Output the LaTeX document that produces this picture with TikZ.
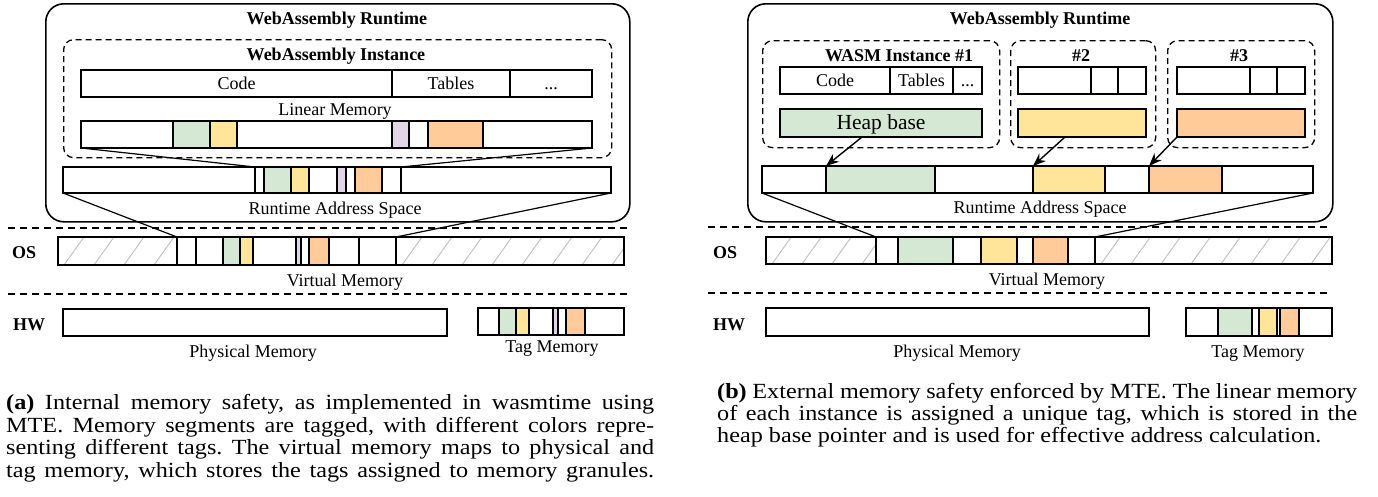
\documentclass[tikz,border=0pt]{standalone}
\usepackage{fontspec}
\setmainfont{Liberation Serif}
\newfontfamily\capfont[FakeStretch=1.12]{Liberation Serif}
\usetikzlibrary{arrows.meta}
\definecolor{tgreen}{HTML}{D5E8D4}
\definecolor{tyellow}{HTML}{FFE599}
\definecolor{torange}{HTML}{FFCC99}
\definecolor{tpurple}{HTML}{E1D5E7}
\frenchspacing
\tikzset{
  seg/.style={draw, line width=1.6pt, inner sep=0pt, outer sep=0pt, font=\fontsize{18}{20}\selectfont, text height=12pt, text depth=0pt},
  hatched/.style={path picture={\foreach \i in {-1,...,10}{\draw[black!25,line width=0.9pt] ([xshift=\i*30pt+6pt]path picture bounding box.south west) -- ++(20pt,28pt);}}},
  lbl/.style={anchor=base, inner sep=0pt, font=\fontsize{18}{20}\selectfont},
  blbl/.style={lbl, font=\fontsize{18}{20}\selectfont\bfseries},
  rtbox/.style={draw, line width=1.6pt, rounded corners=18pt, inner sep=0pt, anchor=north west},
  dbox/.style={draw, line width=1.3pt, dash pattern=on 6pt off 4pt, rounded corners=10pt, inner sep=0pt, anchor=north west},
  layer/.style={line width=1.4pt, dash pattern=on 7pt off 5pt},
  conn/.style={line width=1.2pt},
  arr/.style={line width=1.4pt, -{Stealth[length=13pt,width=10pt]}},
  captxt/.style={anchor=base west, inner sep=0pt, font=\capfont\fontsize{21.6}{22.4}\selectfont}
}
\newcommand\mseg[7]{\node[seg,fill=#6,minimum width={(#3)-(#2)},minimum height={(#5)-(#4)},anchor=north west] (#1) at (#2,#4) {#7};}
\begin{document}
\begin{tikzpicture}[x=1pt,y=-1pt]
\useasboundingbox (0,0) rectangle (1378,496);
% ================= LEFT PANEL =================
\node[rtbox, minimum width=584pt, minimum height=218pt] (rtA) at (45,3) {};
\node[blbl] (rtAt) at (337,24) {WebAssembly Runtime};
\node[dbox, minimum width=548pt, minimum height=118pt] (instA) at (63,39) {};
\node[blbl] (instAt) at (336,60) {WebAssembly Instance};
\mseg{codeA}{81}{392}{70}{97}{white}{Code}
\mseg{tabA}{392}{510}{70}{97}{white}{Tables}
\mseg{dotA}{510}{592}{70}{97}{white}{...}
\node[lbl] (lmAt) at (335,115) {Linear Memory};
\mseg{lmA1}{81}{173}{121}{148}{white}{}
\mseg{lmA2}{173}{210}{121}{148}{tgreen}{}
\mseg{lmA3}{210}{237}{121}{148}{tyellow}{}
\mseg{lmA4}{237}{392}{121}{148}{white}{}
\mseg{lmA5}{392}{409}{121}{148}{tpurple}{}
\mseg{lmA6}{409}{428}{121}{148}{white}{}
\mseg{lmA7}{428}{483}{121}{148}{torange}{}
\mseg{lmA8}{483}{592}{121}{148}{white}{}
% runtime address space
\mseg{raA1}{63}{255}{167}{193}{white}{}
\mseg{raA2}{255}{264}{167}{193}{white}{}
\mseg{raA3}{264}{291}{167}{193}{tgreen}{}
\mseg{raA4}{291}{309}{167}{193}{tyellow}{}
\mseg{raA5}{309}{337}{167}{193}{white}{}
\mseg{raA6}{337}{346}{167}{193}{tpurple}{}
\mseg{raA7}{346}{355}{167}{193}{white}{}
\mseg{raA8}{355}{382}{167}{193}{torange}{}
\mseg{raA9}{382}{401}{167}{193}{white}{}
\mseg{raA10}{401}{611}{167}{193}{white}{}
\node[lbl] (raAt) at (335,214) {Runtime Address Space};
\draw[conn] (lmA1.south west) -- (raA2.north west);
\draw[conn] (lmA8.south east) -- (raA10.north west);
% OS layer
\coordinate (osA1) at (8,228); \coordinate (osA2) at (627,228);
\draw[layer] (osA1) -- (osA2);
\node[blbl, anchor=base west] (osAt) at (12,258) {OS};
\mseg{vmA0}{58}{177}{237}{265}{white,hatched}{}
\mseg{vmA1}{177}{196}{237}{265}{white}{}
\mseg{vmA2}{196}{223}{237}{265}{white}{}
\mseg{vmA3}{223}{240}{237}{265}{tgreen}{}
\mseg{vmA4}{240}{253}{237}{265}{tyellow}{}
\mseg{vmA5}{253}{296}{237}{265}{white}{}
\mseg{vmA6}{296}{301}{237}{265}{tpurple}{}
\mseg{vmA7}{301}{309}{237}{265}{white}{}
\mseg{vmA8}{309}{329}{237}{265}{torange}{}
\mseg{vmA9}{329}{359}{237}{265}{white}{}
\mseg{vmA10}{359}{396}{237}{265}{white}{}
\mseg{vmA11}{396}{624}{237}{265}{white,hatched}{}
\draw[conn] (raA1.south west) -- (vmA1.north west);
\draw[conn] (raA10.south east) -- (vmA11.north west);
\node[lbl] (vmAt) at (345,286) {Virtual Memory};
% HW layer
\coordinate (hwA1) at (8,294); \coordinate (hwA2) at (627,294);
\draw[layer] (hwA1) -- (hwA2);
\node[blbl, anchor=base west] (hwAt) at (13,330) {HW};
\mseg{phA}{63}{447}{309}{336}{white}{}
\node[lbl] (phAt) at (253,357) {Physical Memory};
\mseg{tmA1}{478}{499}{308}{335}{white}{}
\mseg{tmA2}{499}{516}{308}{335}{tgreen}{}
\mseg{tmA3}{516}{529}{308}{335}{tyellow}{}
\mseg{tmA4}{529}{553}{308}{335}{white}{}
\mseg{tmA5}{553}{558}{308}{335}{tpurple}{}
\mseg{tmA6}{558}{566}{308}{335}{white}{}
\mseg{tmA7}{566}{585}{308}{335}{torange}{}
\mseg{tmA8}{585}{624}{308}{335}{white}{}
\node[lbl] (tmAt) at (552,352) {Tag Memory};
% ================= RIGHT PANEL =================
\node[rtbox, minimum width=585pt, minimum height=218pt] (rtB) at (747,3) {};
\node[blbl] (rtBt) at (1040,24) {WebAssembly Runtime};
\node[dbox, minimum width=237pt, minimum height=107pt] (inst1) at (762,40) {};
\node[dbox, minimum width=145pt, minimum height=107pt] (inst2) at (1010,40) {};
\node[dbox, minimum width=147pt, minimum height=107pt] (inst3) at (1167,40) {};
\node[blbl] (inst1t) at (899,61) {WASM Instance \#1};
\node[blbl] (inst2t) at (1081,61) {\#2};
\node[blbl] (inst3t) at (1239,61) {\#3};
\mseg{code1}{780}{890}{67}{94}{white}{Code}
\mseg{tab1}{890}{953}{67}{94}{white}{Tables}
\mseg{dot1}{953}{982}{67}{94}{white}{...}
\mseg{code2}{1018}{1091}{67}{94}{white}{}
\mseg{tab2}{1091}{1118}{67}{94}{white}{}
\mseg{dot2}{1118}{1146}{67}{94}{white}{}
\mseg{code3}{1177}{1250}{67}{94}{white}{}
\mseg{tab3}{1250}{1277}{67}{94}{white}{}
\mseg{dot3}{1277}{1305}{67}{94}{white}{}
\mseg{heap1}{780}{982}{109}{137}{tgreen}{\fontsize{21.5}{23}\selectfont Heap base}
\mseg{heap2}{1018}{1146}{109}{137}{tyellow}{}
\mseg{heap3}{1177}{1305}{109}{137}{torange}{}
% runtime address space
\mseg{rb1}{762}{826}{166}{193}{white}{}
\mseg{rb2}{826}{935}{166}{193}{tgreen}{}
\mseg{rb3}{935}{1033}{166}{193}{white}{}
\mseg{rb4}{1033}{1105}{166}{193}{tyellow}{}
\mseg{rb5}{1105}{1149}{166}{193}{white}{}
\mseg{rb6}{1149}{1222}{166}{193}{torange}{}
\mseg{rb7}{1222}{1313}{166}{193}{white}{}
\node[lbl] (rbt) at (1040,213) {Runtime Address Space};
\draw[arr] ([xshift=-19pt]heap1.south) -- (rb2.north west);
\draw[arr] ([xshift=-17pt]heap2.south) -- (rb4.north west);
\draw[arr] (heap3.south west) -- (rb6.north west);
% OS layer
\coordinate (osB1) at (708,227); \coordinate (osB2) at (1331,227);
\draw[layer] (osB1) -- (osB2);
\node[blbl, anchor=base west] (osBt) at (713,258) {OS};
\mseg{vr0}{766}{876}{237}{264}{white,hatched}{}
\mseg{vr1}{876}{898}{237}{264}{white}{}
\mseg{vr2}{898}{953}{237}{264}{tgreen}{}
\mseg{vr3}{953}{981}{237}{264}{white}{}
\mseg{vr4}{981}{1017}{237}{264}{tyellow}{}
\mseg{vr5}{1017}{1033}{237}{264}{white}{}
\mseg{vr6}{1033}{1068}{237}{264}{torange}{}
\mseg{vr7}{1068}{1095}{237}{264}{white}{}
\mseg{vr8}{1095}{1332}{237}{264}{white,hatched}{}
\draw[conn] (rb1.south west) -- (vr1.north west);
\draw[conn] (rb7.south east) -- (vr8.north west);
\node[lbl] (vrt) at (1047,285) {Virtual Memory};
% HW layer
\coordinate (hwB1) at (708,293); \coordinate (hwB2) at (1331,293);
\draw[layer] (hwB1) -- (hwB2);
\node[blbl, anchor=base west] (hwBt) at (713,330) {HW};
\mseg{phB}{766}{1149}{308}{336}{white}{}
\node[lbl] (phBt) at (957,357) {Physical Memory};
\mseg{tr1}{1186}{1218}{308}{336}{white}{}
\mseg{tr2}{1218}{1252}{308}{336}{tgreen}{}
\mseg{tr3}{1252}{1259}{308}{336}{white}{}
\mseg{tr4}{1259}{1277}{308}{336}{tyellow}{}
\mseg{tr5}{1277}{1280}{308}{336}{white}{}
\mseg{tr6}{1280}{1299}{308}{336}{torange}{}
\mseg{tr7}{1299}{1332}{308}{336}{white}{}
\node[lbl] (trt) at (1258,357) {Tag Memory};
% ================= CAPTIONS =================
\node[captxt] (capa1) at (6,409) {\makebox[648pt][s]{\textbf{(a)} Internal memory safety, as implemented in wasmtime using}};
\node[captxt] (capa2) at (6,432) {\makebox[648pt][s]{MTE. Memory segments are tagged, with different colors repre-}};
\node[captxt] (capa3) at (6,454) {\makebox[648pt][s]{senting different tags. The virtual memory maps to physical and}};
\node[captxt] (capa4) at (6,477) {\makebox[648pt][s]{tag memory, which stores the tags assigned to memory granules.}};
\node[captxt] (capb1) at (717,398) {\makebox[640pt][s]{\textbf{(b)} External memory safety enforced by MTE. The linear memory}};
\node[captxt] (capb2) at (717,420) {\makebox[640pt][s]{of each instance is assigned a unique tag, which is stored in the}};
\node[captxt] (capb3) at (717,442) {heap base pointer and is used for effective address calculation.};
\end{tikzpicture}
\end{document}
